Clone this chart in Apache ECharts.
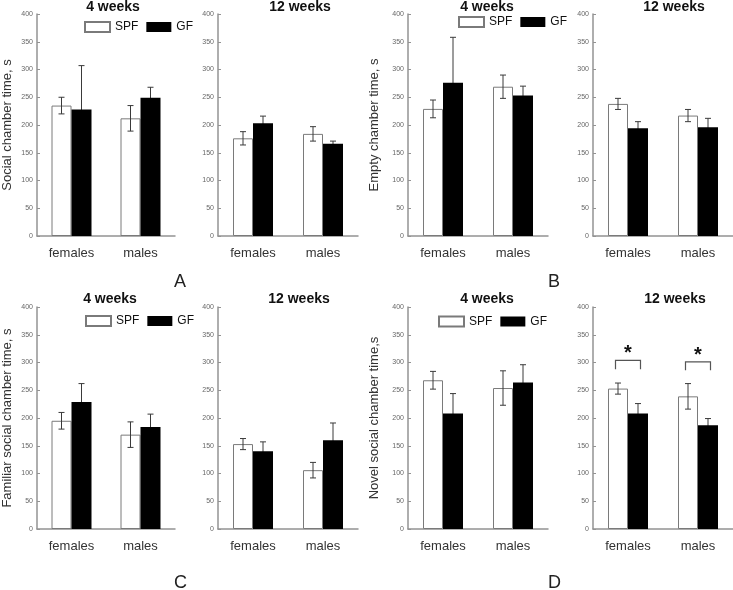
<!DOCTYPE html>
<html><head><meta charset="utf-8">
<script src="https://cdn.jsdelivr.net/npm/echarts@6/dist/echarts.min.js"></script>
<style>html,body{margin:0;padding:0;background:#fff}#c{width:733px;height:590px}</style>
</head><body><div id="c"></div>
<script>
// ---------- DATA ----------
const categories = ['females', 'males'];
const seriesNames = ['SPF', 'GF'];
const panelTitles = ['4 weeks', '12 weeks', '4 weeks', '12 weeks', '4 weeks', '12 weeks', '4 weeks', '12 weeks'];
const yAxisNames = ['Social chamber time, s', 'Empty chamber time, s', 'Familiar social chamber time, s', 'Novel social chamber time,s'];
const panelLetters = ['A', 'B', 'C', 'D'];
const yMin = 0, yMax = 400, yStep = 50;

// A: social chamber time
const socialW4SPF = [235, 212], socialW4SPFErr = [15, 23];
const socialW4GF = [228, 249], socialW4GFErr = [79, 19];
const socialW12SPF = [176, 184], socialW12SPFErr = [12, 13];
const socialW12GF = [203, 166], socialW12GFErr = [13, 5];
// B: empty chamber time
const emptyW4SPF = [229, 269], emptyW4SPFErr = [16, 21];
const emptyW4GF = [276, 253], emptyW4GFErr = [82, 17];
const emptyW12SPF = [238, 217], emptyW12SPFErr = [10, 11];
const emptyW12GF = [194, 196], emptyW12GFErr = [12, 16];
// C: familiar social chamber time
const familiarW4SPF = [195, 170], familiarW4SPFErr = [15, 23];
const familiarW4GF = [229, 184], familiarW4GFErr = [33, 23];
const familiarW12SPF = [153, 106], familiarW12SPFErr = [10, 14];
const familiarW12GF = [140, 160], familiarW12GFErr = [17, 31];
// D: novel social chamber time
const novelW4SPF = [268, 254], novelW4SPFErr = [16, 31];
const novelW4GF = [208, 264], novelW4GFErr = [36, 32];
const novelW12SPF = [253, 239], novelW12SPFErr = [10, 23];
const novelW12GF = [208, 187], novelW12GFErr = [18, 12];
// significance brackets in D 12 weeks: [category index, bracket top, leg end, star level]
const sigBrackets = [[0, 304, 288, 316], [1, 301, 286, 313]];

// ---------- LAYOUT ----------
const panels = [
  {spf: socialW4SPF, spfE: socialW4SPFErr, gf: socialW4GF, gfE: socialW4GFErr},
  {spf: socialW12SPF, spfE: socialW12SPFErr, gf: socialW12GF, gfE: socialW12GFErr},
  {spf: emptyW4SPF, spfE: emptyW4SPFErr, gf: emptyW4GF, gfE: emptyW4GFErr},
  {spf: emptyW12SPF, spfE: emptyW12SPFErr, gf: emptyW12GF, gfE: emptyW12GFErr},
  {spf: familiarW4SPF, spfE: familiarW4SPFErr, gf: familiarW4GF, gfE: familiarW4GFErr},
  {spf: familiarW12SPF, spfE: familiarW12SPFErr, gf: familiarW12GF, gfE: familiarW12GFErr},
  {spf: novelW4SPF, spfE: novelW4SPFErr, gf: novelW4GF, gfE: novelW4GFErr},
  {spf: novelW12SPF, spfE: novelW12SPFErr, gf: novelW12GF, gfE: novelW12GFErr}
];
const gridLefts = [33, 218, 408, 593, 33, 218, 408, 593];
const gridWidths = [142, 140, 140, 140, 142, 140, 140, 140];
const gridTops = [14, 14, 14, 14, 307, 307, 307, 307];
const gridH = 222;
const titleX = [113, 300, 487, 674, 110, 299, 487, 675];
const titleY = [0, 0, 0, 0, 292, 292, 292, 292];
const nameGaps = [23, 0, 27, 0, 23, 0, 27, 0];
const legendPos = [[84, 21], [458, 16], [85, 315], [438, 315.5]];
const letterPos = [[174, 273], [548, 273], [174, 574], [548, 574]];
const BAR_W = 20;
const FONT = 'Liberation Sans, Arial, Helvetica, sans-serif';
const AXIS_COLOR = '#939393';

const grid = [], xAxis = [], yAxis = [], series = [], title = [];
panels.forEach((p, i) => {
  grid.push({left: gridLefts[i], top: gridTops[i], width: gridWidths[i], height: gridH, containLabel: false});
  xAxis.push({
    type: 'category', gridIndex: i, data: categories,
    axisLine: {lineStyle: {color: AXIS_COLOR, width: 1.5}},
    axisTick: {show: false},
    axisLabel: {color: '#333', fontSize: 13, fontFamily: FONT, margin: 11}
  });
  const isLeft = (i % 2 === 0);
  yAxis.push({
    type: 'value', gridIndex: i, min: yMin, max: yMax, interval: yStep,
    name: isLeft ? yAxisNames[i / 2] : '',
    nameLocation: 'middle', nameGap: nameGaps[i],
    nameTextStyle: {color: '#333', fontSize: 13, fontFamily: FONT},
    axisLine: {show: true, lineStyle: {color: AXIS_COLOR, width: 1.5}},
    axisTick: {show: true, inside: true, length: 3, lineStyle: {color: AXIS_COLOR}},
    splitLine: {show: false},
    axisLabel: {color: '#666', fontSize: 7, fontFamily: FONT, margin: 4}
  });
  title.push({
    text: panelTitles[i], left: titleX[i], top: titleY[i], textAlign: 'center', padding: 0,
    textStyle: {fontSize: 14, fontWeight: 'bold', color: '#111', fontFamily: FONT}
  });
  series.push({
    name: 'SPF', type: 'bar', xAxisIndex: i, yAxisIndex: i, data: p.spf,
    barWidth: BAR_W, barGap: '0%', z: 2,
    itemStyle: {color: '#fff', borderColor: '#7a7a7a', borderWidth: 1}
  });
  series.push({
    name: 'GF', type: 'bar', xAxisIndex: i, yAxisIndex: i, data: p.gf,
    barWidth: BAR_W, barGap: '0%', z: 3,
    itemStyle: {color: '#000', borderColor: '#000', borderWidth: 0}
  });
  [[p.spf, p.spfE, -1, 4], [p.gf, p.gfE, 1, 1]].forEach(([m, e, sign, z]) => {
    series.push({
      type: 'custom', xAxisIndex: i, yAxisIndex: i, z: z, silent: true,
      encode: {x: 0, y: [1, 2]},
      data: m.map((v, k) => [k, v - e[k], v + e[k]]),
      renderItem(params, api) {
        const lo = api.coord([api.value(0), api.value(1)]);
        const hi = api.coord([api.value(0), api.value(2)]);
        const x = lo[0] + sign * BAR_W / 2;
        const cap = 3;
        const st = {stroke: '#3a3a3a', lineWidth: 1};
        return {type: 'group', children: [
          {type: 'line', shape: {x1: x, y1: lo[1], x2: x, y2: hi[1]}, style: st},
          {type: 'line', shape: {x1: x - cap, y1: hi[1], x2: x + cap, y2: hi[1]}, style: st},
          {type: 'line', shape: {x1: x - cap, y1: lo[1], x2: x + cap, y2: lo[1]}, style: st}
        ]};
      }
    });
  });
});

// significance brackets on D 12 weeks (grid 7)
series.push({
  type: 'custom', xAxisIndex: 7, yAxisIndex: 7, z: 5, silent: true,
  encode: {x: 0, y: [1, 2]},
  data: sigBrackets,
  renderItem(params, api) {
    const top = api.coord([api.value(0), api.value(1)]);
    const leg = api.coord([api.value(0), api.value(2)]);
    const star = api.coord([api.value(0), api.value(3)]);
    const cx = top[0], half = 12.5;
    const st = {stroke: '#555', lineWidth: 1.2, fill: null};
    return {type: 'group', children: [
      {type: 'polyline', shape: {points: [[cx - half, leg[1]], [cx - half, top[1]], [cx + half, top[1]], [cx + half, leg[1]]]}, style: st},
      {type: 'text', style: {text: '*', x: cx, y: star[1], align: 'center', verticalAlign: 'middle', fontSize: 20, fontWeight: 'bold', fill: '#111', fontFamily: FONT}}
    ]};
  }
});

const legend = legendPos.map(([l, t]) => ({
  data: seriesNames, left: l, top: t, padding: 0, itemWidth: 25, itemHeight: 10, itemGap: 8,
  icon: 'rect', selectedMode: false,
  textStyle: {fontSize: 12, color: '#111', fontFamily: FONT, padding: [0, 0, 0, 0]}
}));

const graphic = panelLetters.map((t, k) => ({
  type: 'text', left: letterPos[k][0], top: letterPos[k][1],
  style: {text: t, fontSize: 18, fill: '#222', fontFamily: FONT}
}));

const chart = echarts.init(document.getElementById('c'), null, {renderer: 'canvas'});
chart.setOption({
  animation: false, backgroundColor: '#fff',
  title, legend, grid, xAxis, yAxis, series, graphic
});
</script></body></html>
